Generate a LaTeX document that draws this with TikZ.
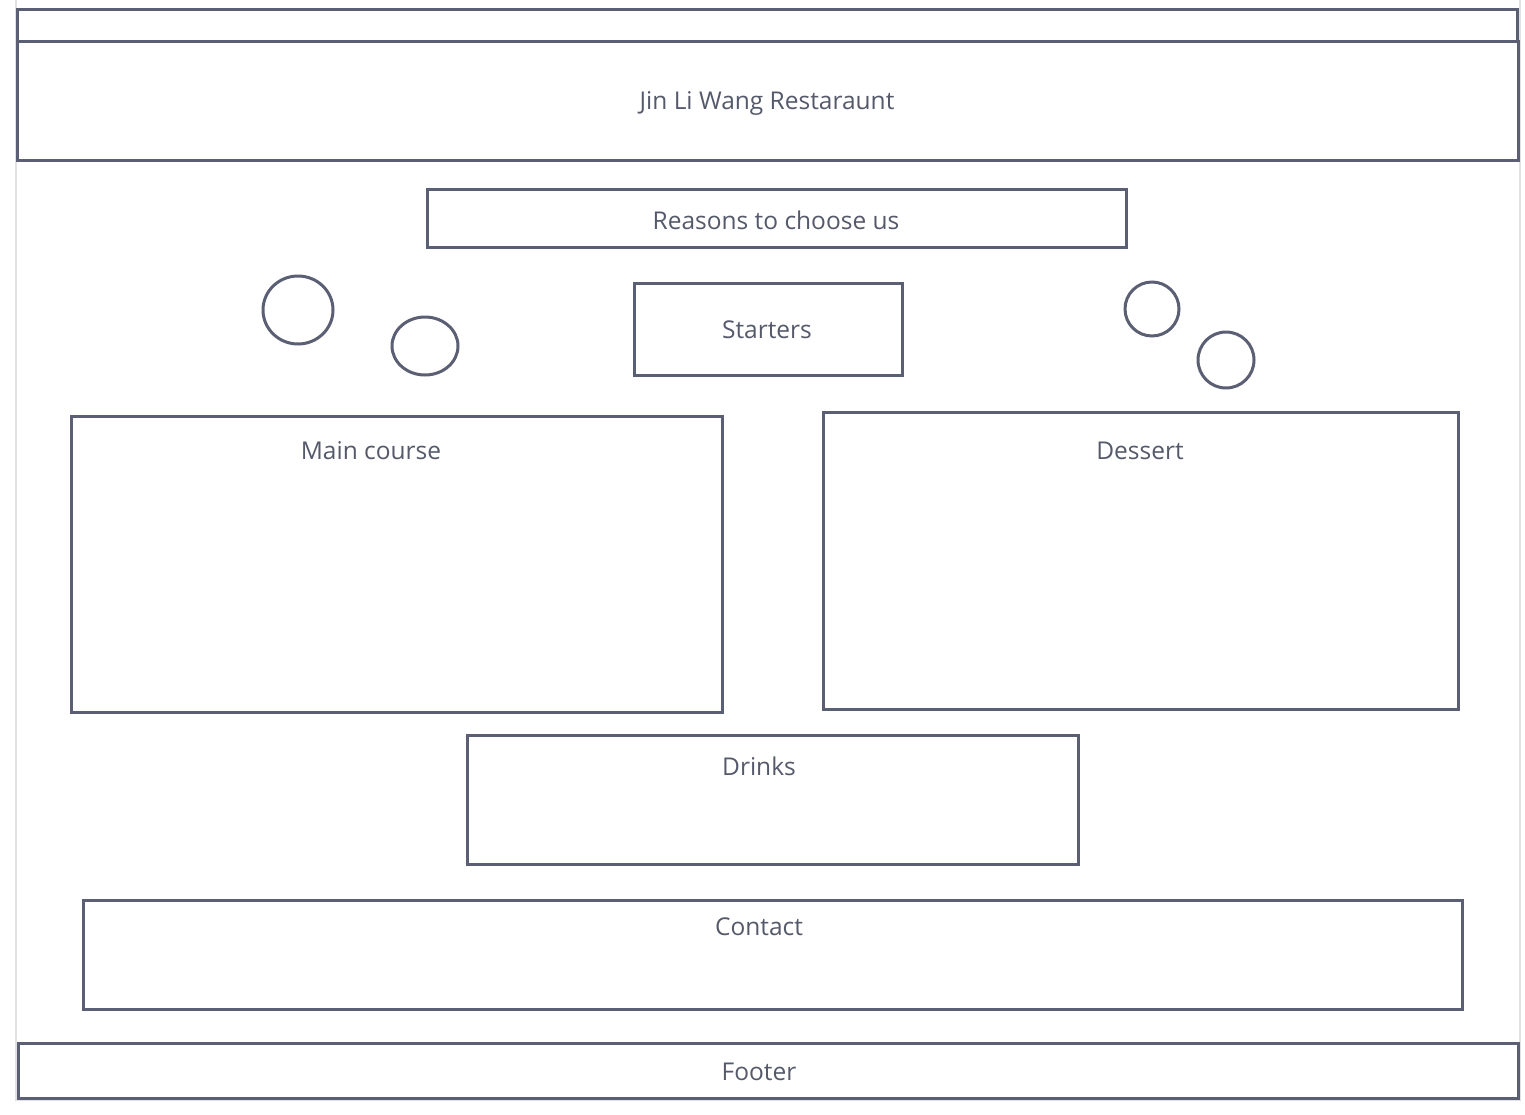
\documentclass[tikz,border=0pt]{standalone}
\usepackage{fontspec}
\setmainfont{Open Sans}
\definecolor{ink}{HTML}{5A5F73}
\definecolor{txt}{HTML}{555A6B}
\definecolor{pageedge}{HTML}{E2E2E4}
\begin{document}
\begin{tikzpicture}[x=1pt,y=-1pt,
  box/.style={draw=ink,line width=3pt},
  ring/.style={draw=ink,line width=3pt},
  lbl/.style={text=txt,font=\fontsize{24.5}{28}\selectfont,inner sep=0pt}]
\useasboundingbox (0,0) rectangle (1525,1114);
\fill[white] (0,0) rectangle (1525,1114);
% page edge
\draw[pageedge,line width=2pt] (16,0) -- (16,1100) -- (1520,1100) -- (1520,0);
% top bar and header
\draw[box] (17,9) rectangle (1517,41);
\draw[box] (17,41) rectangle (1518,160);
\node[lbl] (title) at (767,103) {Jin Li Wang Restaraunt};
% reasons
\draw[box] (427,189) rectangle (1126,247);
\node[lbl] (reasons) at (776,220) {Reasons to choose us};
% starters
\draw[box] (634,283) rectangle (902,375);
\node[lbl] (starters) at (767,330) {Starters};
% circles
\draw[ring] (298,310) ellipse [x radius=35, y radius=34];
\draw[ring] (425,346) ellipse [x radius=33, y radius=29];
\draw[ring] (1152,309) ellipse [x radius=27, y radius=27];
\draw[ring] (1226,360) ellipse [x radius=28, y radius=28];
% main course
\draw[box] (71,416) rectangle (722,712);
\node[lbl] (main) at (371,451) {Main course};
% dessert
\draw[box] (823,412) rectangle (1458,709);
\node[lbl] (dessert) at (1140,451) {Dessert};
% drinks
\draw[box] (467,735) rectangle (1078,864);
\node[lbl] (drinks) at (759,766) {Drinks};
% contact
\draw[box] (83,900) rectangle (1462,1009);
\node[lbl] (contact) at (759,927) {Contact};
% footer
\draw[box] (18,1043) rectangle (1518,1098);
\node[lbl] (footer) at (759,1072) {Footer};
\end{tikzpicture}
\end{document}
